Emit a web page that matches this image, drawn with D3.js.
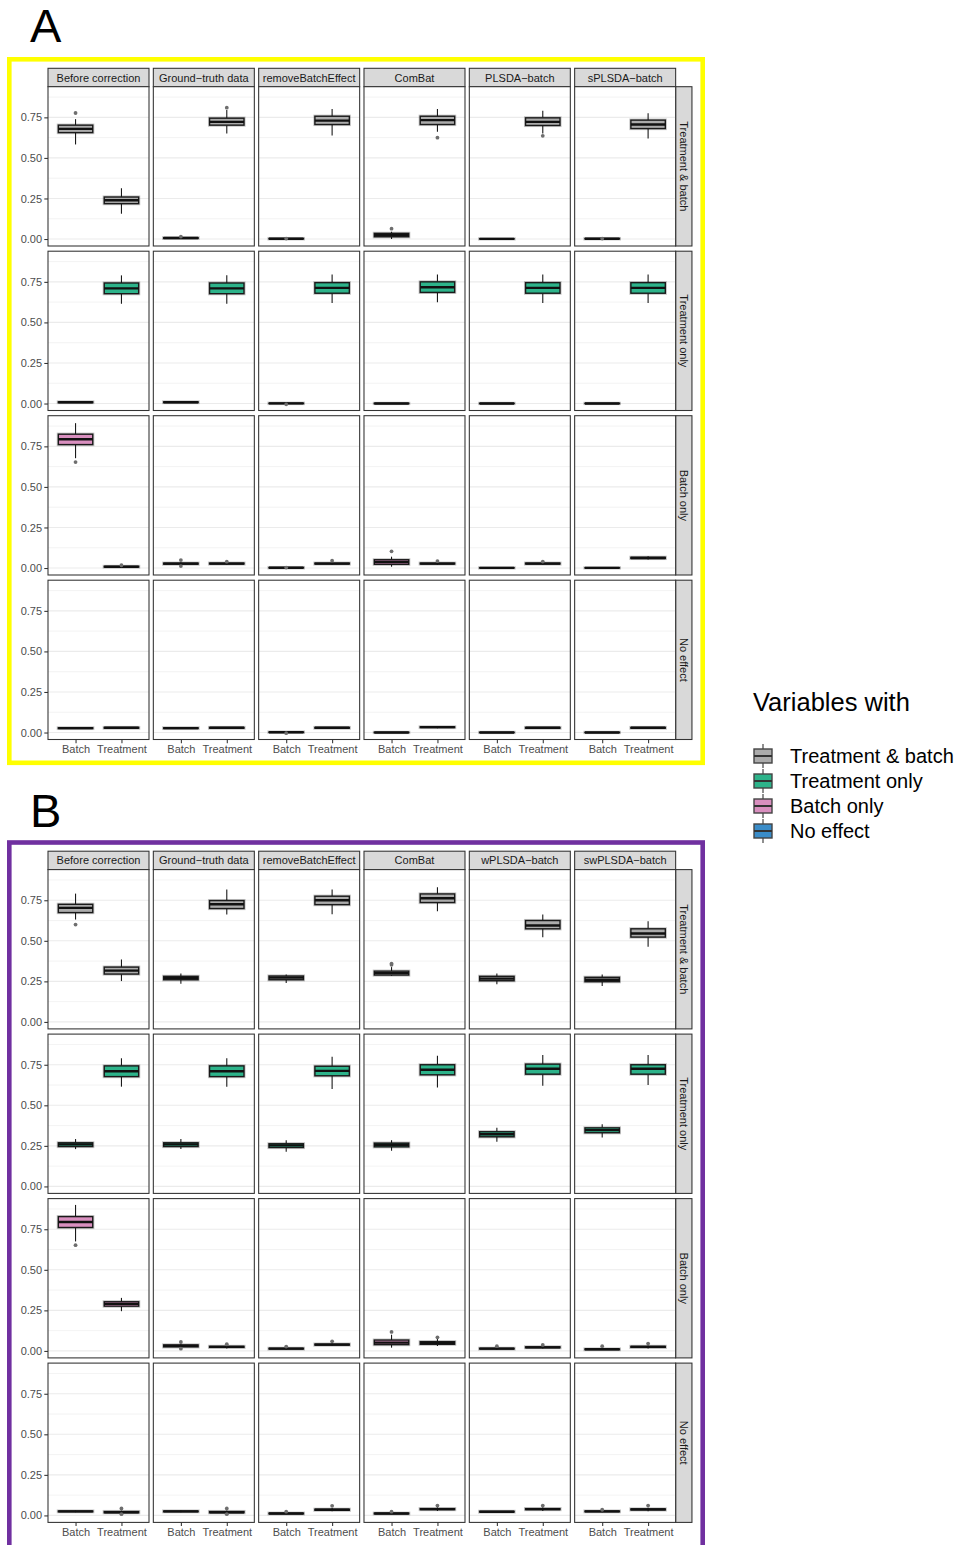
<!DOCTYPE html>
<html>
<head>
<meta charset="utf-8">
<script src="https://cdn.jsdelivr.net/npm/d3@7"></script>
<style>
  html, body { margin: 0; padding: 0; background: #ffffff; }
  svg { display: block; }
  text { font-family: "Liberation Sans", Arial, Helvetica, sans-serif; }
</style>
</head>
<body>
<svg id="chart" width="958" height="1545"></svg>
<script>
// ---- categories and labels ----
const methodsA = ["Before correction", "Ground\u2212truth data", "removeBatchEffect", "ComBat", "PLSDA\u2212batch", "sPLSDA\u2212batch"];
const methodsB = ["Before correction", "Ground\u2212truth data", "removeBatchEffect", "ComBat", "wPLSDA\u2212batch", "swPLSDA\u2212batch"];
const effectTypes = ["Treatment & batch", "Treatment only", "Batch only", "No effect"];
const groups = ["Batch", "Treatment"];
const yTicks = [0, 0.25, 0.5, 0.75];
const yMinor = [0.125, 0.375, 0.625, 0.875];
const effectColors = ["#ABABAB", "#2DB38A", "#D98FBF", "#3A8CC8"];
const legendTitle = "Variables with";

// ---- box summaries ----
// one entry per method; each holds [Batch, Treatment] boxes as
// [lower whisker, Q1, median, Q3, upper whisker, outliers]
const aTreatBatch = [
  [[0.583, 0.656, 0.679, 0.702, 0.739, [0.777]], [0.156, 0.218, 0.239, 0.259, 0.313, []]],
  [[0.002, 0.004, 0.006, 0.008, 0.011, [0.015]], [0.650, 0.702, 0.722, 0.745, 0.796, [0.810]]],
  [[0.000, 0.001, 0.002, 0.003, 0.004, [0.003]], [0.638, 0.706, 0.730, 0.757, 0.802, []]],
  [[0.000, 0.014, 0.025, 0.035, 0.045, [0.064]], [0.662, 0.706, 0.733, 0.757, 0.802, [0.625]]],
  [[0.000, 0.0005, 0.001, 0.0015, 0.002, []], [0.650, 0.700, 0.722, 0.747, 0.790, [0.636]]],
  [[0.000, 0.001, 0.002, 0.003, 0.004, [0.003]], [0.619, 0.681, 0.706, 0.733, 0.776, []]]
];
const aTreatOnly = [
  [[0.004, 0.006, 0.008, 0.010, 0.013, []], [0.615, 0.677, 0.710, 0.743, 0.790, []]],
  [[0.004, 0.006, 0.008, 0.010, 0.013, []], [0.615, 0.677, 0.710, 0.743, 0.790, []]],
  [[-0.003, 0.000, 0.001, 0.002, 0.004, [-0.005]], [0.620, 0.680, 0.713, 0.745, 0.795, []]],
  [[0.000, 0.000, 0.0005, 0.001, 0.001, []], [0.625, 0.685, 0.717, 0.750, 0.795, []]],
  [[0.000, 0.000, 0.0005, 0.001, 0.001, []], [0.620, 0.680, 0.713, 0.745, 0.795, []]],
  [[0.000, 0.000, 0.0005, 0.001, 0.001, []], [0.620, 0.680, 0.713, 0.745, 0.795, []]]
];
const aBatchOnly = [
  [[0.677, 0.761, 0.794, 0.825, 0.893, [0.653]], [0.004, 0.006, 0.008, 0.010, 0.013, [0.017]]],
  [[0.018, 0.024, 0.027, 0.030, 0.036, [0.049, 0.012]], [0.020, 0.025, 0.027, 0.030, 0.034, [0.039]]],
  [[0.000, 0.001, 0.002, 0.003, 0.004, [0.003]], [0.020, 0.025, 0.027, 0.030, 0.035, [0.045]]],
  [[0.008, 0.023, 0.037, 0.051, 0.070, [0.103]], [0.020, 0.025, 0.027, 0.030, 0.035, [0.043]]],
  [[0.000, 0.0005, 0.001, 0.0015, 0.002, []], [0.020, 0.025, 0.027, 0.030, 0.035, [0.040]]],
  [[0.000, 0.0005, 0.001, 0.0015, 0.002, []], [0.052, 0.059, 0.062, 0.066, 0.072, []]]
];
const aNoEffect = [
  [[0.022, 0.025, 0.027, 0.029, 0.032, []], [0.024, 0.027, 0.029, 0.031, 0.034, []]],
  [[0.022, 0.025, 0.027, 0.029, 0.032, []], [0.024, 0.027, 0.029, 0.031, 0.034, []]],
  [[-0.002, 0.001, 0.002, 0.003, 0.005, [-0.004]], [0.024, 0.027, 0.029, 0.031, 0.034, []]],
  [[0.000, 0.000, 0.0005, 0.001, 0.001, []], [0.027, 0.031, 0.033, 0.035, 0.038, []]],
  [[0.000, 0.000, 0.0005, 0.001, 0.001, []], [0.024, 0.027, 0.029, 0.031, 0.034, []]],
  [[0.000, 0.000, 0.0005, 0.001, 0.001, []], [0.024, 0.027, 0.029, 0.031, 0.034, []]]
];
const bTreatBatch = [
  [[0.631, 0.674, 0.703, 0.725, 0.791, [0.600]], [0.252, 0.295, 0.316, 0.338, 0.385, []]],
  [[0.236, 0.260, 0.270, 0.281, 0.299, []], [0.662, 0.699, 0.725, 0.748, 0.816, []]],
  [[0.240, 0.260, 0.273, 0.283, 0.293, []], [0.664, 0.723, 0.750, 0.775, 0.816, []]],
  [[0.283, 0.289, 0.301, 0.313, 0.338, [0.352, 0.360]], [0.682, 0.736, 0.762, 0.789, 0.830, []]],
  [[0.232, 0.254, 0.267, 0.281, 0.299, []], [0.522, 0.574, 0.594, 0.625, 0.662, []]],
  [[0.221, 0.248, 0.260, 0.275, 0.293, []], [0.463, 0.523, 0.545, 0.574, 0.621, []]]
];
const bTreatOnly = [
  [[0.230, 0.246, 0.259, 0.269, 0.292, []], [0.615, 0.677, 0.710, 0.743, 0.790, []]],
  [[0.230, 0.246, 0.259, 0.269, 0.292, []], [0.615, 0.677, 0.710, 0.743, 0.790, []]],
  [[0.214, 0.240, 0.253, 0.263, 0.285, []], [0.600, 0.682, 0.712, 0.741, 0.799, []]],
  [[0.220, 0.244, 0.257, 0.267, 0.285, []], [0.610, 0.688, 0.719, 0.750, 0.805, []]],
  [[0.275, 0.306, 0.322, 0.337, 0.361, []], [0.620, 0.692, 0.725, 0.754, 0.810, []]],
  [[0.302, 0.331, 0.347, 0.361, 0.384, []], [0.625, 0.692, 0.725, 0.750, 0.810, []]]
];
const bBatchOnly = [
  [[0.675, 0.761, 0.795, 0.828, 0.900, [0.652]], [0.245, 0.276, 0.290, 0.303, 0.327, []]],
  [[0.020, 0.025, 0.031, 0.037, 0.045, [0.055, 0.014]], [0.015, 0.022, 0.025, 0.028, 0.035, [0.041]]],
  [[0.008, 0.012, 0.014, 0.016, 0.020, [0.027]], [0.030, 0.036, 0.039, 0.042, 0.050, [0.059]]],
  [[0.020, 0.039, 0.051, 0.067, 0.100, [0.117]], [0.031, 0.041, 0.049, 0.057, 0.074, [0.084]]],
  [[0.008, 0.012, 0.014, 0.016, 0.020, [0.029]], [0.015, 0.020, 0.022, 0.025, 0.030, [0.037]]],
  [[0.005, 0.008, 0.010, 0.012, 0.016, [0.029]], [0.015, 0.022, 0.025, 0.028, 0.035, [0.045]]]
];
const bNoEffect = [
  [[0.020, 0.023, 0.025, 0.027, 0.030, []], [0.010, 0.017, 0.020, 0.024, 0.030, [0.043, 0.008]]],
  [[0.020, 0.023, 0.025, 0.027, 0.030, []], [0.010, 0.017, 0.020, 0.024, 0.030, [0.043, 0.008]]],
  [[0.008, 0.010, 0.012, 0.014, 0.017, [0.023]], [0.025, 0.032, 0.035, 0.038, 0.045, [0.059]]],
  [[0.008, 0.010, 0.012, 0.014, 0.017, [0.023]], [0.028, 0.036, 0.039, 0.042, 0.050, [0.061]]],
  [[0.018, 0.021, 0.023, 0.025, 0.028, []], [0.028, 0.036, 0.039, 0.042, 0.050, [0.061]]],
  [[0.020, 0.023, 0.025, 0.027, 0.030, [0.035]], [0.026, 0.034, 0.037, 0.040, 0.048, [0.061]]]
];

// ---- layout ----
const svg = d3.select("#chart");
svg.append("rect").attr("width", 958).attr("height", 1545).attr("fill", "#ffffff");

const panelX0 = 48, panelW = 101, colStep = 105.33;
const stripH = 18.4, panelH = 159.3, rowStep = 164.5;
const rightStripW = 16.3;

const x = d3.scalePoint().domain(groups).range([0, panelW]).padding(0.6);
const boxHalf = (0.75 * x.step()) / 2;
const y = d3.scaleLinear().domain([-0.043, 0.939]).range([panelH, 0]);

function drawFigure(opts) {
  const { label, labelY, methods, rows, stripTop, frame, frameColor } = opts;
  const fig = svg.append("g");

  // coloured frame around the whole facet grid
  fig.append("rect")
    .attr("x", frame[0]).attr("y", frame[1])
    .attr("width", frame[2]).attr("height", frame[3])
    .attr("fill", "none").attr("stroke", frameColor).attr("stroke-width", 4.6);

  fig.append("text")
    .attr("x", 30).attr("y", labelY)
    .attr("font-size", 47).attr("fill", "#000")
    .text(label);

  const panelTop0 = stripTop + stripH;

  // column strips
  methods.forEach((m, j) => {
    const px = panelX0 + j * colStep;
    fig.append("rect")
      .attr("x", px).attr("y", stripTop)
      .attr("width", panelW).attr("height", stripH)
      .attr("fill", "#D9D9D9").attr("stroke", "#333333").attr("stroke-width", 1.07);
    fig.append("text")
      .attr("x", px + panelW / 2).attr("y", stripTop + stripH / 2 + 4)
      .attr("text-anchor", "middle").attr("font-size", 11).attr("fill", "#1A1A1A")
      .text(m);
  });

  rows.forEach((rowData, i) => {
    const py = panelTop0 + i * rowStep;
    const color = effectColors[i];

    // row strip on the right
    const sx = panelX0 + 5 * colStep + panelW;
    fig.append("rect")
      .attr("x", sx).attr("y", py)
      .attr("width", rightStripW).attr("height", panelH)
      .attr("fill", "#D9D9D9").attr("stroke", "#333333").attr("stroke-width", 1.07);
    fig.append("text")
      .attr("transform", `translate(${sx + rightStripW / 2 - 4},${py + panelH / 2}) rotate(90)`)
      .attr("text-anchor", "middle").attr("font-size", 11).attr("fill", "#1A1A1A")
      .text(effectTypes[i]);

    // y axis on the first column
    const yAxis = d3.axisLeft(y).tickValues(yTicks).tickFormat(d3.format(".2f"))
      .tickSize(3.7).tickPadding(2.2);
    const ax = fig.append("g")
      .attr("transform", `translate(${panelX0},${py})`)
      .call(yAxis);
    ax.select(".domain").remove();
    ax.selectAll(".tick line").attr("stroke", "#333333").attr("stroke-width", 1.07);
    ax.selectAll(".tick text").attr("font-size", 11).attr("fill", "#4D4D4D")
      .attr("font-family", "Liberation Sans, Arial, sans-serif");

    rowData.forEach((cell, j) => {
      const px = panelX0 + j * colStep;
      const p = fig.append("g").attr("transform", `translate(${px},${py})`);

      p.append("rect").attr("width", panelW).attr("height", panelH).attr("fill", "#ffffff");

      // grid
      p.selectAll("line.minor").data(yMinor).join("line")
        .attr("x1", 0).attr("x2", panelW)
        .attr("y1", d => y(d)).attr("y2", d => y(d))
        .attr("stroke", "#EBEBEB").attr("stroke-width", 0.6);
      p.selectAll("line.major").data(yTicks).join("line")
        .attr("x1", 0).attr("x2", panelW)
        .attr("y1", d => y(d)).attr("y2", d => y(d))
        .attr("stroke", "#EBEBEB").attr("stroke-width", 1.1);

      // boxes
      cell.forEach((b, k) => {
        const [lo, q1, med, q3, hi, outs] = b;
        const cx = x(groups[k]);
        p.append("line")
          .attr("x1", cx).attr("x2", cx).attr("y1", y(hi)).attr("y2", y(q3))
          .attr("stroke", "#1A1A1A").attr("stroke-width", 1.1);
        p.append("line")
          .attr("x1", cx).attr("x2", cx).attr("y1", y(q1)).attr("y2", y(lo))
          .attr("stroke", "#1A1A1A").attr("stroke-width", 1.1);
        p.append("rect")
          .attr("x", cx - boxHalf).attr("y", y(q3))
          .attr("width", boxHalf * 2).attr("height", Math.max(0, y(q1) - y(q3)))
          .attr("fill", color).attr("stroke", "rgba(0,0,0,0.22)").attr("stroke-width", 3.2);
        p.append("rect")
          .attr("x", cx - boxHalf).attr("y", y(q3))
          .attr("width", boxHalf * 2).attr("height", Math.max(0, y(q1) - y(q3)))
          .attr("fill", color).attr("stroke", "#1A1A1A").attr("stroke-width", 1.4);
        p.append("line")
          .attr("x1", cx - boxHalf).attr("x2", cx + boxHalf)
          .attr("y1", y(med)).attr("y2", y(med))
          .attr("stroke", "#111111").attr("stroke-width", 2.4);
        p.selectAll(null).data(outs).join("circle")
          .attr("cx", cx).attr("cy", d => y(d)).attr("r", 1.9)
          .attr("fill", "#6E6E6E");
      });

      p.append("rect").attr("width", panelW).attr("height", panelH)
        .attr("fill", "none").attr("stroke", "#333333").attr("stroke-width", 1.07);

      // x axis on the bottom row
      if (i === rows.length - 1) {
        const xa = fig.append("g")
          .attr("transform", `translate(${px},${py + panelH})`)
          .call(d3.axisBottom(x).tickSize(3.7).tickPadding(2.4));
        xa.select(".domain").remove();
        xa.selectAll(".tick line").attr("stroke", "#333333").attr("stroke-width", 1.07);
        xa.selectAll(".tick text").attr("font-size", 11).attr("fill", "#4D4D4D")
          .attr("font-family", "Liberation Sans, Arial, sans-serif");
      }
    });
  });
}

drawFigure({
  label: "A", labelY: 42, methods: methodsA,
  rows: [aTreatBatch, aTreatOnly, aBatchOnly, aNoEffect],
  stripTop: 68.3, frame: [9.3, 59.3, 693.4, 703.5], frameColor: "#FFFF00"
});
drawFigure({
  label: "B", labelY: 827, methods: methodsB,
  rows: [bTreatBatch, bTreatOnly, bBatchOnly, bNoEffect],
  stripTop: 851.2, frame: [9.3, 842.5, 693.4, 760], frameColor: "#7030A0"
});

// ---- legend ----
const legend = svg.append("g");
legend.append("text")
  .attr("x", 753).attr("y", 711).attr("font-size", 25.5).attr("fill", "#000")
  .text(legendTitle);
effectTypes.forEach((t, i) => {
  const cy = 756 + i * 25;
  const g = legend.append("g");
  g.append("line").attr("x1", 763).attr("x2", 763).attr("y1", cy - 12).attr("y2", cy + 12)
    .attr("stroke", "#333333").attr("stroke-width", 1.1);
  g.append("rect").attr("x", 754).attr("y", cy - 7).attr("width", 18).attr("height", 14)
    .attr("fill", effectColors[i]).attr("stroke", "#444444").attr("stroke-width", 1.4);
  g.append("line").attr("x1", 754).attr("x2", 772).attr("y1", cy).attr("y2", cy)
    .attr("stroke", "#333333").attr("stroke-width", 2);
  g.append("text").attr("x", 790).attr("y", cy + 7).attr("font-size", 20).attr("fill", "#000")
    .text(t);
});
</script>
</body>
</html>
